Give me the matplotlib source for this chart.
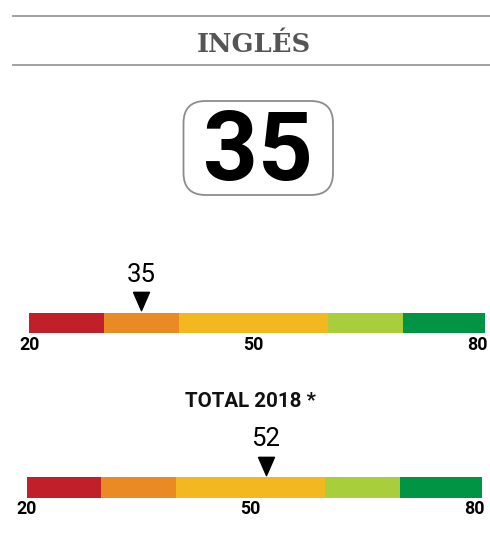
import matplotlib
matplotlib.use("Agg")
import matplotlib.pyplot as plt
from matplotlib.patches import FancyBboxPatch
from matplotlib.lines import Line2D

# ---- data ----
subject = "INGLÉS"
score = 35
total_title = "TOTAL 2018 *"
total_score = 52
seg_edges = [20, 30, 40, 60, 70, 81]
seg_colors = ["#C1202A", "#E98A25", "#F3B81F", "#A8CF3B", "#009444"]
tick_vals = [20, 50, 80]
tick_labels = ["20", "50", "80"]

W, H = 490, 540
fig = plt.figure(figsize=(W / 100, H / 100), dpi=100)
fig.patch.set_facecolor("white")

def fx(px):
    return px / W

def fy(py):
    return 1 - py / H

# header rules
for yy in (15.7, 64.8):
    fig.add_artist(Line2D([fx(13), fx(490)], [fy(yy), fy(yy)], color="#9a9a9a", lw=1.3))

fig.text(fx(253.5), fy(51.5), subject, ha="center", va="baseline",
         fontsize=18.5, fontweight="bold", family="DejaVu Serif", color="#555555")

# rounded box with main score
box = FancyBboxPatch((fx(183.5), fy(195)), fx(333) - fx(183.5), fy(101) - fy(195),
                     boxstyle="round,pad=0,rounding_size=0.045",
                     transform=fig.transFigure, facecolor="white",
                     edgecolor="#8c8c8c", lw=1.3, mutation_aspect=W / H)
fig.add_artist(box)
fig.text(fx(258.3), fy(180), str(score), ha="center", va="baseline",
         fontsize=69, fontweight="bold", family="Roboto", color="black")

tri = [(-0.87, 1.0), (0.87, 1.0), (0.0, -1.0), (-0.87, 1.0)]

def gauge(left, right, top, bottom, value):
    ax = fig.add_axes([fx(left), fy(bottom), fx(right) - fx(left), fy(top) - fy(bottom)])
    ax.set_xlim(seg_edges[0], seg_edges[-1])
    hgt = bottom - top
    ax.set_ylim(hgt, 0)
    bar_h = 20.7
    for a, b, c in zip(seg_edges[:-1], seg_edges[1:], seg_colors):
        ax.barh(hgt - bar_h / 2, b - a, left=a, height=bar_h, color=c, linewidth=0)
    ax.plot([value], [hgt - bar_h - 11.5], marker=tri, markersize=13.2,
            color="black", linestyle="none")
    ax.text(value, hgt - bar_h - 30.8, str(value), ha="center", va="baseline",
            fontsize=18.5, family="Roboto", color="black")
    ax.set_xticks(tick_vals)
    ax.set_xticklabels(tick_labels, fontsize=12.8, fontweight="bold", family="Roboto")
    ax.tick_params(axis="x", length=0, pad=2.0)
    ax.set_yticks([])
    for s in ax.spines.values():
        s.set_visible(False)
    ax.patch.set_alpha(0)
    return ax

gauge(29.3, 485.0, 255, 333.2, score)

fig.text(fx(250.8), fy(406.7), total_title, ha="center", va="baseline",
         fontsize=14.8, fontweight="bold", family="Roboto", color="#111111")

gauge(26.7, 482.3, 420, 497.7, total_score)

fig.savefig("out.png", dpi=100)
